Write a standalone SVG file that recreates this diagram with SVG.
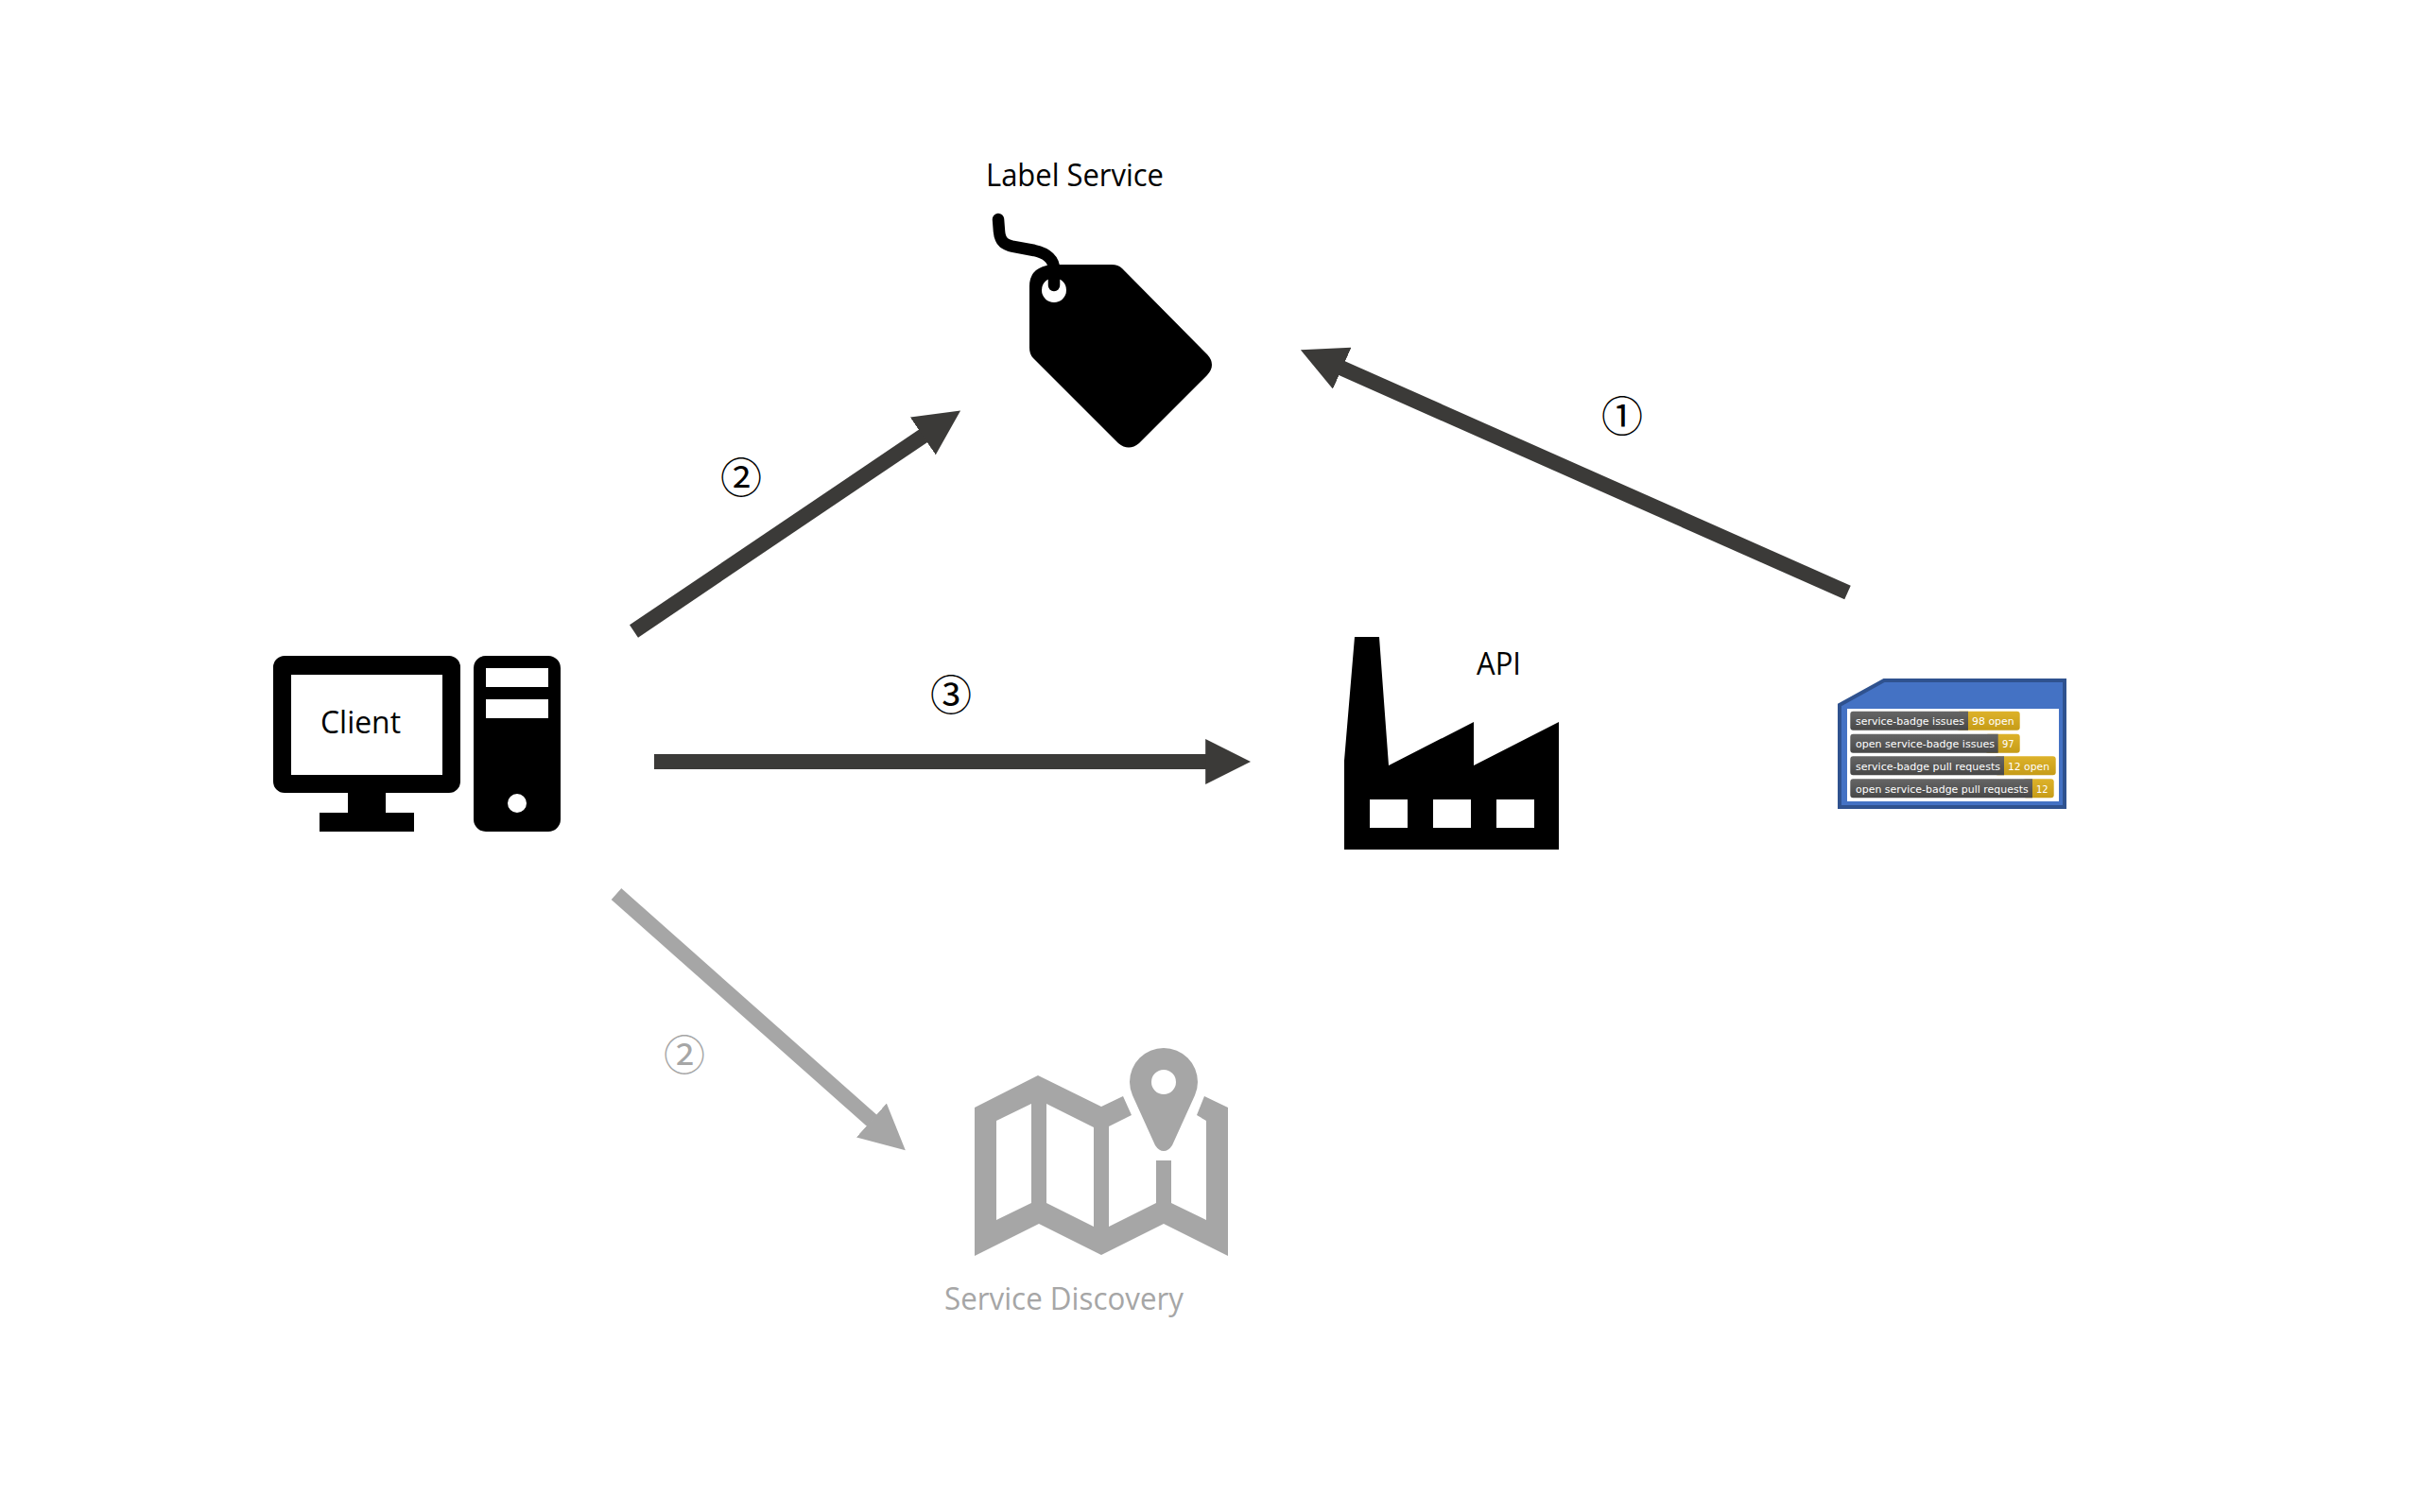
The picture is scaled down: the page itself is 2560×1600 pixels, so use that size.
<svg xmlns="http://www.w3.org/2000/svg" width="2560" height="1600" viewBox="0 0 2560 1600">
<style>
.t{font-family:"Open Sans","Noto Sans",sans-serif;font-size:32px;fill:#000}
.n{font-family:"Noto Sans CJK JP","DejaVu Sans",sans-serif;font-size:44px;text-anchor:middle;fill:#000}
.g{fill:#A6A6A6}
.c{fill:none;stroke-width:16;stroke:#3B3A38}
.cg{stroke:#A6A6A6}
.b{font-family:"DejaVu Sans",sans-serif;font-size:11px;fill:#fff}
.d{fill:url(#gd)}
.y{fill:url(#gy)}
</style>
<defs>
<marker id="ah" markerUnits="strokeWidth" markerWidth="3" markerHeight="3" viewBox="0 0 3 3" refX="0.05" refY="1.5" orient="auto"><path d="M0,0L3,1.5L0,3Z" fill="#3B3A38"/></marker>
<marker id="ahg" markerUnits="strokeWidth" markerWidth="3" markerHeight="3" viewBox="0 0 3 3" refX="0.05" refY="1.5" orient="auto"><path d="M0,0L3,1.5L0,3Z" fill="#A6A6A6"/></marker>
<linearGradient id="gd" x1="0" y1="0" x2="0" y2="1"><stop offset="0" stop-color="#666"/><stop offset="1" stop-color="#484848"/></linearGradient>
<linearGradient id="gy" x1="0" y1="0" x2="0" y2="1"><stop offset="0" stop-color="#DDB22A"/><stop offset="1" stop-color="#C69C18"/></linearGradient>
</defs>
<rect width="2560" height="1600" fill="#fff"/>
<g id="connectors">
<line class="c" x1="1954.5" y1="627" x2="1419" y2="389.4" marker-end="url(#ah)"/>
<line class="c" x1="670.5" y1="668" x2="977" y2="461" marker-end="url(#ah)"/>
<line class="c" x1="692" y1="806" x2="1276" y2="806" marker-end="url(#ah)"/>
<line class="c cg" x1="652" y1="946" x2="922.5" y2="1186" marker-end="url(#ahg)"/>
<text class="n" x="1716" y="457">①</text>
<text class="n" x="784" y="522">②</text>
<text class="n" x="1006" y="752">③</text>
<text class="n g" x="724" y="1133">②</text>
</g>
<g id="client">
<path fill-rule="evenodd" d="M301,694H475a12,12 0 0 1 12,12V827a12,12 0 0 1 -12,12H408V860H438V880H338V860H368V839H301a12,12 0 0 1 -12,-12V706a12,12 0 0 1 12,-12ZM308,714V820H468V714Z"/>
<path fill-rule="evenodd" d="M514,694H580a13,13 0 0 1 13,13V867a13,13 0 0 1 -13,13H514a13,13 0 0 1 -13,-13V707a13,13 0 0 1 13,-13ZM514,707V727H580V707ZM514,740V760H580V740ZM557,850a10,10 0 1 0 -20,0a10,10 0 1 0 20,0Z"/>
<text class="t" x="339" y="776" textLength="85" lengthAdjust="spacingAndGlyphs">Client</text>
</g>
<g id="label-service">
<text class="t" x="1043" y="197" textLength="188" lengthAdjust="spacingAndGlyphs">Label Service</text>
<path d="M1110,280H1176Q1183,280 1187,284L1277,375Q1287,386 1277,397L1205,469Q1194,478 1183,469L1093,379Q1089,375 1089,368V303Q1089,285 1107,281Z"/>
<circle cx="1115" cy="307" r="13" fill="#fff"/>
<path d="M1056,232L1057,245C1058,257 1064,259 1072,261L1094,265C1108,268 1115,275 1115,285V302" fill="none" stroke="#000" stroke-width="12.5" stroke-linecap="round"/>
</g>
<g id="api">
<path fill-rule="evenodd" d="M1433,674H1459L1469,810L1559,764V810L1649,764V899H1422V805ZM1449,846V876H1489V846ZM1516,846V876H1556V846ZM1583,846V876H1623V846Z"/>
<text class="t" x="1562" y="714" textLength="47" lengthAdjust="spacingAndGlyphs">API</text>
</g>
<g id="service-badges">
<path d="M1993,720H2184V854H1946V746Z" fill="#4472C4" stroke="#2F528F" stroke-width="4"/>
<rect x="1954" y="750" width="224" height="98" fill="#fff"/>
<rect class="y" x="2070" y="752.7" width="66.7" height="20" rx="3"/>
<path class="d" d="M2082,752.7H1960.3a3,3 0 0 0 -3,3V769.7a3,3 0 0 0 3,3H2082Z"/>
<text class="b" x="1963" y="767" textLength="115" lengthAdjust="spacingAndGlyphs">service-badge issues</text>
<text class="b" x="2086" y="767" textLength="44.7" lengthAdjust="spacingAndGlyphs">98 open</text>
<rect class="y" x="2100" y="776.7" width="36.7" height="20" rx="3"/>
<path class="d" d="M2113.7,776.7H1960.3a3,3 0 0 0 -3,3V793.7a3,3 0 0 0 3,3H2113.7Z"/>
<text class="b" x="1963" y="791" textLength="147" lengthAdjust="spacingAndGlyphs">open service-badge issues</text>
<text class="b" x="2118" y="791" textLength="12.7" lengthAdjust="spacingAndGlyphs">97</text>
<rect class="y" x="2110" y="800.3" width="64.7" height="20" rx="3"/>
<path class="d" d="M2120,800.3H1960.3a3,3 0 0 0 -3,3V817.3a3,3 0 0 0 3,3H2120Z"/>
<text class="b" x="1963" y="814.6" textLength="153" lengthAdjust="spacingAndGlyphs">service-badge pull requests</text>
<text class="b" x="2124" y="814.6" textLength="44" lengthAdjust="spacingAndGlyphs">12 open</text>
<rect class="y" x="2140" y="824.3" width="32.7" height="20" rx="3"/>
<path class="d" d="M2150,824.3H1960.3a3,3 0 0 0 -3,3V841.3a3,3 0 0 0 3,3H2150Z"/>
<text class="b" x="1963" y="838.6" textLength="182.7" lengthAdjust="spacingAndGlyphs">open service-badge pull requests</text>
<text class="b" x="2154" y="838.6" textLength="12.7" lengthAdjust="spacingAndGlyphs">12</text>
</g>
<g id="service-discovery">
<path class="g" fill-rule="evenodd" d="M1031,1172L1098,1138L1165,1171L1188,1160L1197,1180L1173,1192V1298L1223,1273V1228H1239V1273L1276,1291V1186L1266,1180L1274,1160L1299,1172V1329L1231,1295L1165,1328L1099,1295L1031,1329ZM1054,1186V1291L1091,1273V1168ZM1107,1168V1273L1157,1298V1193Z"/>
<path class="g" fill-rule="evenodd" d="M1195,1145A36,36 0 0 1 1267,1145Q1267,1152 1264,1159L1240,1212Q1236,1218 1231,1218Q1226,1218 1222,1212L1198,1159Q1195,1152 1195,1145ZM1244,1145a13,13 0 1 0 -26,0a13,13 0 1 0 26,0Z"/>
<text class="t g" x="999" y="1386" textLength="253" lengthAdjust="spacingAndGlyphs">Service Discovery</text>
</g>
</svg>
